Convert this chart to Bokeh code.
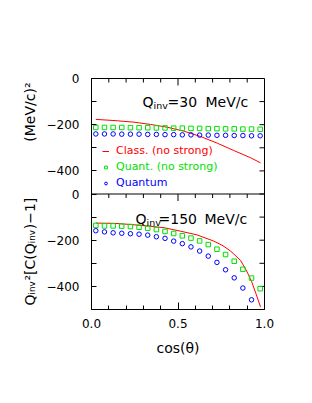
import math
from bokeh.plotting import figure
from bokeh.models import (Range1d, LinearAxis, FixedTicker, Span, Label,
                          Legend, LegendItem)
from bokeh.embed import file_html
from bokeh.resources import INLINE

# ---------------- data ----------------
cos_pts = [0.025, 0.075, 0.125, 0.175, 0.225, 0.275, 0.325, 0.375, 0.425, 0.475,
           0.525, 0.575, 0.625, 0.675, 0.725, 0.775, 0.825, 0.875, 0.925, 0.975]

# Q_inv = 30 MeV/c panel
top_quant_ns = [-212, -212, -212, -212, -213, -213, -213, -214, -214, -215,
                -215, -216, -216, -217, -217, -218, -218, -219, -219, -220]
top_quant = [-240, -240, -240, -241, -241, -241, -242, -242, -243, -243,
             -244, -244, -245, -245, -246, -246, -247, -247, -248, -248]
top_class_x = [0.025, 0.13, 0.246, 0.342, 0.438, 0.534, 0.63, 0.727, 0.823, 0.919, 0.977]
top_class_y = [-177, -182, -189, -199, -211, -228, -251, -280, -312, -343, -365]

# Q_inv = 150 MeV/c panel
bot_quant_ns = [-136, -138, -138, -139, -141, -144, -148, -154, -162, -171,
                -181, -191, -203, -219, -239, -262, -291, -326, -364, -410]
bot_quant_x = cos_pts[:19]
bot_quant = [-159, -164, -168, -170, -172, -174, -178, -185, -192, -204,
             -215, -229, -247, -269, -296, -328, -363, -407, -458]
bot_class_x = [0.025, 0.13, 0.227, 0.33, 0.42, 0.515, 0.61, 0.707, 0.76, 0.804,
               0.862, 0.9, 0.925, 0.95, 0.977]
bot_class_y = [-126, -127, -132, -139, -146, -161, -177, -204, -224, -247,
               -288, -338, -378, -430, -489]

# axes / ticks
x_major = [0.0, 0.5, 1.0]
x_major_labels = ["0.0", "0.5", "1.0"]
x_minor = [0.1, 0.2, 0.3, 0.4, 0.6, 0.7, 0.8, 0.9]
y_panel_major = [0, -200, -400]
y_panel_labels = ["0", "\u2212200", "\u2212400"]
y_panel_minor = [-100, -300]
panel_shift = -500          # bottom panel is drawn 500 units lower
y_title = ("Q\u1d62\u2099\u1d65\u00b2[C(Q\u1d62\u2099\u1d65)\u22121]"
           "\u2003\u2003\u2003\u2003(MeV/c)\u00b2")

RED, GREEN, BLUE = "#ff0000", "#00e000", "#0000ff"
FONT = "DejaVu Sans"

# ---------------- figure ----------------
W, H = 312, 403
ML, MR, MT, MB = 91, 48, 78, 94
p = figure(width=W, height=H, output_backend="svg", toolbar_location=None,
           x_range=Range1d(0, 1), y_range=Range1d(-1000, 0),
           min_border_left=ML, min_border_right=MR,
           min_border_top=MT, min_border_bottom=MB,
           x_axis_type=None, y_axis_type=None)
p.xgrid.visible = False
p.ygrid.visible = False
p.outline_line_color = "black"
p.outline_line_width = 1

y_major = y_panel_major + [v + panel_shift for v in y_panel_major]
y_labels = y_panel_labels + y_panel_labels
y_minor = y_panel_minor + [v + panel_shift for v in y_panel_minor]

xb = LinearAxis(axis_label="cos(\u03b8)")
xb.ticker = FixedTicker(ticks=x_major, minor_ticks=x_minor)
xb.major_label_overrides = dict(zip(x_major, x_major_labels))
xb.major_tick_in, xb.major_tick_out = 7, 0
xb.minor_tick_in, xb.minor_tick_out = 4, 0
xb.major_label_text_font = FONT
xb.major_label_text_font_size = "12px"
xb.major_label_text_color = "black"
xb.major_label_standoff = 9
xb.axis_label_text_font = FONT
xb.axis_label_text_font_size = "14px"
xb.axis_label_text_font_style = "normal"
xb.axis_label_text_color = "black"
xb.axis_label_standoff = 9
p.add_layout(xb, "below")

yl = LinearAxis(axis_label=y_title)
yl.ticker = FixedTicker(ticks=y_major, minor_ticks=y_minor)
yl.major_label_overrides = dict(zip(y_major, y_labels))
yl.major_tick_in, yl.major_tick_out = 5, 0
yl.minor_tick_in, yl.minor_tick_out = 5, 0
yl.major_label_text_font = FONT
yl.major_label_text_font_size = "12px"
yl.major_label_text_color = "black"
yl.major_label_standoff = 12
yl.axis_label_text_font = FONT
yl.axis_label_text_font_size = "14px"
yl.axis_label_text_font_style = "normal"
yl.axis_label_text_color = "black"
yl.axis_label_standoff = 6
p.add_layout(yl, "left")

# inward ticks on the top and right frame edges and on the panel divider
A = math.pi / 2
p.ray(x=x_minor, y=[0] * len(x_minor), length=4, length_units="screen",
      angle=-A, line_color="black", line_width=1)
p.ray(x=[0.5], y=[0], length=7, length_units="screen",
      angle=-A, line_color="black", line_width=1)
y_all = y_major + y_minor
p.ray(x=[1] * len(y_all), y=y_all, length=5, length_units="screen",
      angle=math.pi, line_color="black", line_width=1)
p.add_layout(Span(location=panel_shift, dimension="width", line_color="black", line_width=1))
p.ray(x=x_minor, y=[panel_shift] * len(x_minor), length=4, length_units="screen",
      angle=-A, line_color="black", line_width=1)
p.ray(x=[0.5], y=[panel_shift], length=7, length_units="screen",
      angle=-A, line_color="black", line_width=1)

# ---------------- data glyphs ----------------
r_cls = p.line(top_class_x, top_class_y, line_color=RED, line_width=1)
r_qns = p.scatter(cos_pts, top_quant_ns, marker="square", size=4.5,
                  line_color=GREEN, fill_color=None, line_width=1)
r_q = p.scatter(cos_pts, top_quant, marker="circle", size=4.5,
                line_color=BLUE, fill_color=None, line_width=1)

p.line(bot_class_x, [v + panel_shift for v in bot_class_y], line_color=RED, line_width=1)
p.scatter(cos_pts, [v + panel_shift for v in bot_quant_ns], marker="square", size=4.5,
          line_color=GREEN, fill_color=None, line_width=1)
p.scatter(bot_quant_x, [v + panel_shift for v in bot_quant], marker="circle", size=4.5,
          line_color=BLUE, fill_color=None, line_width=1)

# ---------------- legends (one per colour) ----------------
for lab_txt, rend, col, ypos in [("Class. (no strong)", r_cls, RED, 152),
                                 ("Quant. (no strong)", r_qns, GREEN, 136),
                                 ("Quantum", r_q, BLUE, 120)]:
    lg = Legend(items=[LegendItem(label=lab_txt, renderers=[rend])],
                location=(11, ypos), orientation="vertical",
                glyph_width=7, glyph_height=12, label_height=12,
                label_standoff=7, padding=0, margin=0, spacing=0,
                border_line_color=None, background_fill_alpha=0,
                label_text_font=FONT, label_text_font_size="11px",
                label_text_color=col)
    p.add_layout(lg, "center")

# ---------------- panel titles ----------------
FL, FR, FT, FB = ML, W - MR, MT, H - MB
def xd(px):
    return (px - FL) / (FR - FL)
def yd(py):
    return -(py - FT) / (FB - FT) * 1000.0

def lab(txt, px, py, size):
    p.add_layout(Label(x=xd(px), y=yd(py), text=txt, text_font=FONT,
                       text_font_size=f"{size}px", text_color="black",
                       text_align="left", text_baseline="alphabetic"))

lab("Q", 142, 101, 14); lab("inv", 153, 105, 9.5)
lab("=30", 167, 101, 14); lab("MeV/c", 205, 101, 14)
lab("Q", 135, 218, 14); lab("inv", 146, 222, 9.5)
lab("=150", 158, 218, 14); lab("MeV/c", 204, 218, 14)

open("out.html", "w").write(file_html(p, INLINE))
